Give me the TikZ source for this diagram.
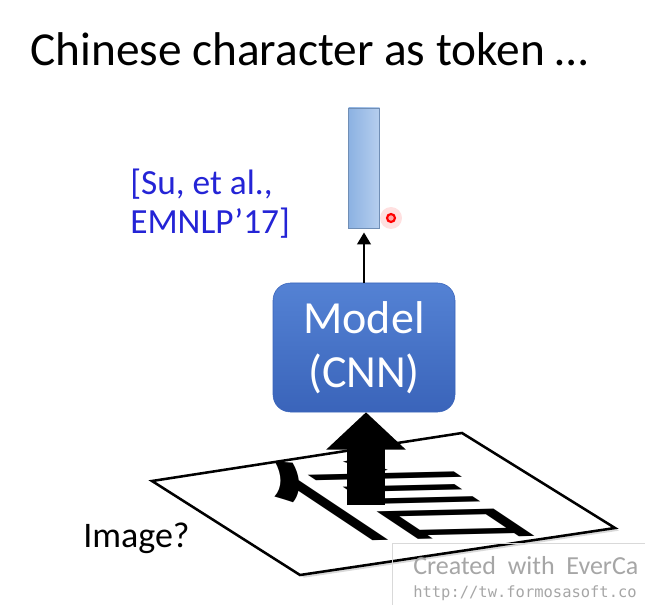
\documentclass[tikz,border=0pt]{standalone}
\usepackage{fontspec}
\setmainfont{Carlito}
\newfontfamily\cjkfont{Noto Sans CJK SC}
\newfontfamily\wmmono{DejaVu Sans Mono}
\usetikzlibrary{arrows.meta,shadows}
\definecolor{celltop}{RGB}{84,130,212}
\definecolor{cellbot}{RGB}{58,100,186}
\definecolor{vecleft}{RGB}{140,178,226}
\definecolor{vecright}{RGB}{182,206,238}
\definecolor{citeblue}{RGB}{36,36,214}

\begin{document}
\begin{tikzpicture}
	[x=0.75pt,y=0.75pt,
	 modelbox/.style={rounded corners=13pt, top color=celltop, bottom color=cellbot, draw=cellbot, text=white,
		minimum width=136.5pt, minimum height=96.75pt, inner sep=0pt, align=center,
		font=\fontsize{34.5}{40.5}\selectfont},
	 vecbox/.style={left color=vecleft, right color=vecright, draw=vecleft!80!black, line width=0.6pt,
		minimum width=23.25pt, minimum height=90pt, inner sep=0pt},
	 thinarrow/.style={line width=2.2pt, -{Triangle[width=10pt,length=9pt]}, shorten >=3pt},
	 bigarrow/.style={line width=28.5pt, -{Triangle[width=58pt,length=28pt]}},
	 paper/.style={draw, line width=1.9pt, fill=white, line join=miter,
		drop shadow={shadow xshift=3pt, shadow yshift=-2pt, opacity=.3}}]
	\useasboundingbox (0,0) rectangle (645,-605);

	% title
	\node[anchor=base west, inner sep=0pt, font=\fontsize{35.5}{43}\selectfont] (title) at (30,-66) {Chinese character as token \dots};

	% output vector and model
	\node[vecbox] (vec) at (364,-168) {};
	\node[modelbox] (model) at (364,-347.5) {Model\\(CNN)};
	\draw[thinarrow] (model.north) -- (vec.south);

	% cursor mark
	\fill[red, opacity=.12] (391,-218) circle (11);
	\draw[red, line width=1.6pt, fill=red!35] (391,-218) circle (4);

	\node[anchor=north west, inner sep=0pt, align=left, text=citeblue,
		font=\fontsize{26.5}{29}\selectfont] (cite) at (130,-169) {[Su, et al.,\\EMNLP’17]};

	% the image on a sheet of paper
	\coordinate (pl) at (152,-481);
	\coordinate (pt) at (462,-433);
	\coordinate (pr) at (615,-528);
	\coordinate (pb) at (300,-575);
	\path[paper] (pl) -- (pt) -- (pr) -- (pb) -- cycle;
	\begin{scope}[shift={(390,-500)}]
		\node[transform shape, cm={0.86,0.02,-0.48,0.32,(0,0)}, inner sep=0pt,
			font=\cjkfont\fontsize{200}{200}\selectfont] (glyph) at (0,0) {信};
	\end{scope}
	\coordinate (imgfoot) at (366,-505);
	\draw[bigarrow] (imgfoot) -- (imgfoot |- model.south);

	\node[anchor=base west, inner sep=0pt, font=\fontsize{27}{32}\selectfont] (imglabel) at (83,-547) {Image?};

	% recorder watermark
	\draw[gray!30, fill=white, fill opacity=.6] (392,-543) -- (645,-543) (392,-543) -- (392,-605);
	\node[anchor=base west, inner sep=0pt, text=gray!70, font=\fontsize{19.5}{24}\selectfont] (wmtext) at (413,-574) {Created\ \ with\ \ EverCa};
	\node[anchor=base west, inner sep=0pt, text=gray!70, font=\wmmono\fontsize{11.6}{14}\selectfont] (wmurl) at (413,-597) {http://tw.formosasoft.co};
\end{tikzpicture}
\end{document}
